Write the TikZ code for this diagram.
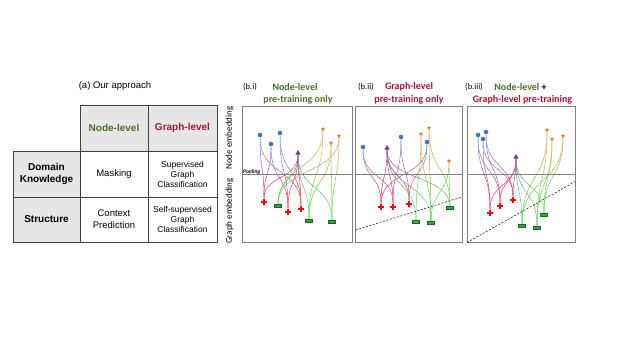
\documentclass[tikz,border=0pt]{standalone}
\usepackage{fontspec}
\setmainfont{Liberation Sans}
\newfontfamily\calib{Carlito}
\usetikzlibrary{shapes.geometric,calc}
\pgfdeclarelayer{bglayer}
\pgfdeclarelayer{edgelayer}
\pgfsetlayers{bglayer,edgelayer,main}

\definecolor{nlgreen}{RGB}{79,110,40}
\definecolor{glred}{RGB}{170,20,50}
\definecolor{cgray}{RGB}{230,230,230}
\definecolor{tline}{RGB}{64,64,64}
\definecolor{boxgray}{RGB}{128,128,128}
\definecolor{nblue}{RGB}{68,114,196}
\definecolor{norange}{RGB}{237,125,49}
\definecolor{npurple}{RGB}{112,48,160}
\definecolor{nred}{RGB}{255,0,0}
\definecolor{ngreen}{RGB}{40,170,60}
\definecolor{eblue}{RGB}{115,155,222}
\definecolor{eorange}{RGB}{242,165,90}
\definecolor{epurple}{RGB}{150,85,190}
\definecolor{ered}{RGB}{240,60,100}
\definecolor{egreen}{RGB}{100,212,100}

\newcommand\pedge[3]{\draw[edge,#3] (#1) .. controls ($(#1)!0.55!(#1|-#2)$) and ($(#2)!0.55!(#2|-#1)$) .. (#2);}

\newcommand\bands[1]{%
 \foreach \k/\ya/\yb in {100/0/145,86/145/153,71/153/161,57/161/169,43/169/177,29/177/185,14/185/193,0/193/349}{%
  \begin{scope}
   \clip (0,\ya) rectangle (620,\yb);
   \colorlet{cbr}{eblue!\k!ered}%
   \colorlet{cpr}{epurple!\k!ered}%
   \colorlet{cpg}{epurple!\k!egreen}%
   \colorlet{cog}{eorange!\k!egreen}%
   #1
  \end{scope}}}

\newcommand\edgesI{%
\pedge{ib1}{ir1}{cbr}\pedge{ib1}{ir3}{cbr}
\pedge{ib2}{ir1}{cbr}\pedge{ib2}{ir2}{cbr}
\pedge{ib3}{ir2}{cbr}\pedge{ib3}{ir3}{cbr}
\pedge{ip}{ir1}{cpr}\pedge{ip}{ir2}{cpr}\pedge{ip}{ir3}{cpr}
\pedge{ip}{ig1}{cpg}\pedge{ip}{ig2}{cpg}\pedge{ip}{ig3}{cpg}
\pedge{io1}{ig1}{cog}\pedge{io1}{ig2}{cog}
\pedge{io2}{ig2}{cog}\pedge{io2}{ig3}{cog}
\pedge{io3}{ig1}{cog}\pedge{io3}{ig3}{cog}}

\newcommand\edgesII{%
\pedge{iib1}{iir1}{cbr}\pedge{iib1}{iir2}{cbr}
\pedge{iib2}{iir2}{cbr}\pedge{iib2}{iir3}{cbr}
\pedge{iib3}{iir1}{cbr}\pedge{iib3}{iir3}{cbr}
\pedge{iip}{iir1}{cpr}\pedge{iip}{iir2}{cpr}\pedge{iip}{iir3}{cpr}
\pedge{iip}{iig1}{cpg}\pedge{iip}{iig2}{cpg}\pedge{iip}{iig3}{cpg}
\pedge{iio1}{iig1}{cog}\pedge{iio1}{iig2}{cog}
\pedge{iio2}{iig2}{cog}\pedge{iio2}{iig3}{cog}
\pedge{iio3}{iig2}{cog}\pedge{iio3}{iig3}{cog}}

\newcommand\edgesIII{%
\pedge{iiib1}{iiir1}{cbr}\pedge{iiib1}{iiir2}{cbr}
\pedge{iiib2}{iiir2}{cbr}\pedge{iiib2}{iiir3}{cbr}
\pedge{iiib3}{iiir1}{cbr}\pedge{iiib3}{iiir3}{cbr}
\pedge{iiip}{iiir1}{cpr}\pedge{iiip}{iiir2}{cpr}\pedge{iiip}{iiir3}{cpr}
\pedge{iiip}{iiig1}{cpg}\pedge{iiip}{iiig2}{cpg}\pedge{iiip}{iiig3}{cpg}
\pedge{iiio1}{iiig1}{cog}\pedge{iiio1}{iiig2}{cog}
\pedge{iiio2}{iiig2}{cog}\pedge{iiio2}{iiig3}{cog}
\pedge{iiio3}{iiig3}{cog}\pedge{iiio3}{iiig1}{cog}}

\tikzset{
 edge/.style={line width=0.5pt},
 cell/.style={draw=tline, line width=0.7pt, inner sep=0pt, align=center},
 panel/.style={draw=boxgray, line width=0.9pt, inner sep=0pt},
 pool/.style={draw=boxgray, line width=0.6pt},
 dline/.style={draw=black!85, line width=0.6pt, dash pattern=on 2pt off 1.6pt},
 bc/.style={circle, fill=nblue, inner sep=0pt, minimum size=4.6pt},
 os/.style={star, star points=5, star point ratio=2, fill=norange, inner sep=0pt, minimum size=4.4pt},
 pt/.style={regular polygon, regular polygon sides=3, fill=npurple, inner sep=0pt, minimum size=6pt},
 gb/.style={rectangle, fill=ngreen, draw=ngreen!60!black, line width=0.3pt, inner sep=0pt, minimum width=7pt, minimum height=2.8pt},
 rx/.style={rectangle, inner sep=0pt, minimum size=6.8pt, path picture={
   \draw[black, line width=2.6pt] (path picture bounding box.north) -- (path picture bounding box.south)
     (path picture bounding box.west) -- (path picture bounding box.east);
   \draw[nred, line width=1.5pt] ([yshift=-0.65pt]path picture bounding box.north) -- ([yshift=0.65pt]path picture bounding box.south)
     ([xshift=0.65pt]path picture bounding box.west) -- ([xshift=-0.65pt]path picture bounding box.east);}},
 ttl/.style={font=\calib\bfseries\fontsize{10}{12}\selectfont, inner sep=0pt},
 sub/.style={font=\calib\fontsize{8.5}{10}\selectfont, inner sep=0pt},
}

\begin{document}
\begin{tikzpicture}[x=1pt,y=-1pt]
\useasboundingbox (0,0) rectangle (620,349);
\begin{pgfonlayer}{bglayer}
\fill[white] (0,0) rectangle (620,349);
\end{pgfonlayer}

% ---------- (a) table ----------
\node[font=\fontsize{9.5}{11}\selectfont] (atitle) at (115,86) {(a) Our approach};
\node[cell, fill=cgray, minimum width=68pt, minimum height=46pt, font=\bfseries\fontsize{10}{12}\selectfont, text=nlgreen] (hn) at (114,128) {Node-level};
\node[cell, fill=cgray, minimum width=69pt, minimum height=46pt, font=\bfseries\fontsize{10}{12}\selectfont, text=glred] (hg) at (182.5,128) {Graph-level};
\node[cell, fill=cgray, minimum width=67pt, minimum height=46pt, font=\bfseries\fontsize{10}{11.6}\selectfont] (rd) at (46.5,174) {Domain\\Knowledge};
\node[cell, fill=cgray, minimum width=67pt, minimum height=45pt, font=\bfseries\fontsize{10}{11.6}\selectfont] (rs) at (46.5,219.5) {Structure};
\node[cell, minimum width=68pt, minimum height=46pt, font=\fontsize{9.5}{11.6}\selectfont] (cm) at (114,174) {Masking};
\node[cell, minimum width=69pt, minimum height=46pt, font=\fontsize{8.5}{10}\selectfont] (cs) at (182.5,174) {Supervised\\Graph\\Classification};
\node[cell, minimum width=68pt, minimum height=45pt, font=\fontsize{9.5}{11.6}\selectfont] (cc) at (114,219.5) {Context\\Prediction};
\node[cell, minimum width=69pt, minimum height=45pt, font=\fontsize{8.5}{10}\selectfont] (css) at (182.5,219.5) {Self-supervised\\Graph\\Classification};

% ---------- titles ----------
\node[sub] (t1a) at (250,87) {(b.i)};
\node[ttl, text=nlgreen] (t1b) at (295,87) {Node-level};
\node[ttl, text=nlgreen] (t1c) at (298,99.5) {pre-training only};
\node[sub] (t2a) at (366,87) {(b.ii)};
\node[ttl, text=glred] (t2b) at (409,87) {Graph-level};
\node[ttl, text=glred] (t2c) at (409,99.5) {pre-training only};
\node[sub] (t3a) at (474,87) {(b.iii)};
\node[ttl] (t3b) at (520.5,87) {\textcolor{nlgreen}{Node-level} +};
\node[ttl, text=glred] (t3c) at (522.5,99.5) {Graph-level pre-training};

\node[rotate=90, font=\calib\fontsize{9}{10}\selectfont] (nemb) at (229.5,138) {Node embedding};
\node[rotate=90, font=\calib\fontsize{9}{10}\selectfont] (gemb) at (229.5,211) {Graph embedding};

% ---------- panels ----------
\node[panel, minimum width=110pt, minimum height=136pt] (P1) at (297,174) {};
\node[panel, minimum width=107pt, minimum height=136pt] (P2) at (408.5,174) {};
\node[panel, minimum width=107.5pt, minimum height=136pt] (P3) at (521.25,174) {};
\draw[pool] (P1.west) -- (P1.east);
\draw[pool] (P2.west) -- (P2.east);
\draw[pool] (P3.west) -- (P3.east);
\node[font=\calib\bfseries\itshape\fontsize{5.5}{6}\selectfont, anchor=base west, inner sep=0pt] (pl) at (243,173) {Pooling};

\coordinate (d2a) at (355.5,230);
\coordinate (d2b) at (462,197);
\coordinate (d3b) at (575,181.7);
\draw[dline] (d2a) -- (d2b);
\draw[dline] (P3.south west) -- (d3b);

% ---------- panel (b.i) nodes ----------
\node[bc] (ib1) at (260,135) {};
\node[bc] (ib2) at (271,144) {};
\node[bc] (ib3) at (280,133) {};
\node[os] (io1) at (323,129) {};
\node[os] (io2) at (331,143) {};
\node[os] (io3) at (339,136) {};
\node[pt] (ip) at (298,153) {};
\node[rx] (ir1) at (264,202) {};
\node[rx] (ir2) at (288,212) {};
\node[rx] (ir3) at (301,209) {};
\node[gb] (ig1) at (278,206) {};
\node[gb] (ig2) at (309,221) {};
\node[gb] (ig3) at (332,222) {};

% ---------- panel (b.ii) nodes ----------
\node[bc] (iib1) at (363,147) {};
\node[bc] (iib2) at (401,137) {};
\node[bc] (iib3) at (427,142) {};
\node[os] (iio1) at (421,134) {};
\node[os] (iio2) at (429,128) {};
\node[os] (iio3) at (449,161) {};
\node[pt] (iip) at (387,148) {};
\node[rx] (iir1) at (381,207) {};
\node[rx] (iir2) at (393,207) {};
\node[rx] (iir3) at (409,204) {};
\node[gb] (iig1) at (416,222) {};
\node[gb] (iig2) at (431,223) {};
\node[gb] (iig3) at (450,208) {};

% ---------- panel (b.iii) nodes ----------
\node[bc] (iiib1) at (478,135) {};
\node[bc] (iiib2) at (486,132) {};
\node[bc] (iiib3) at (483,139) {};
\node[os] (iiio1) at (547,130) {};
\node[os] (iiio2) at (552,139) {};
\node[os] (iiio3) at (563,136) {};
\node[pt] (iiip) at (516,157) {};
\node[rx] (iiir1) at (490,213) {};
\node[rx] (iiir2) at (500,206) {};
\node[rx] (iiir3) at (513,200) {};
\node[gb] (iiig1) at (522,226) {};
\node[gb] (iiig2) at (537,228) {};
\node[gb] (iiig3) at (544,215) {};

\begin{pgfonlayer}{edgelayer}
\bands{\edgesI}
\bands{\edgesII}
\bands{\edgesIII}
\end{pgfonlayer}
\end{tikzpicture}
\end{document}
